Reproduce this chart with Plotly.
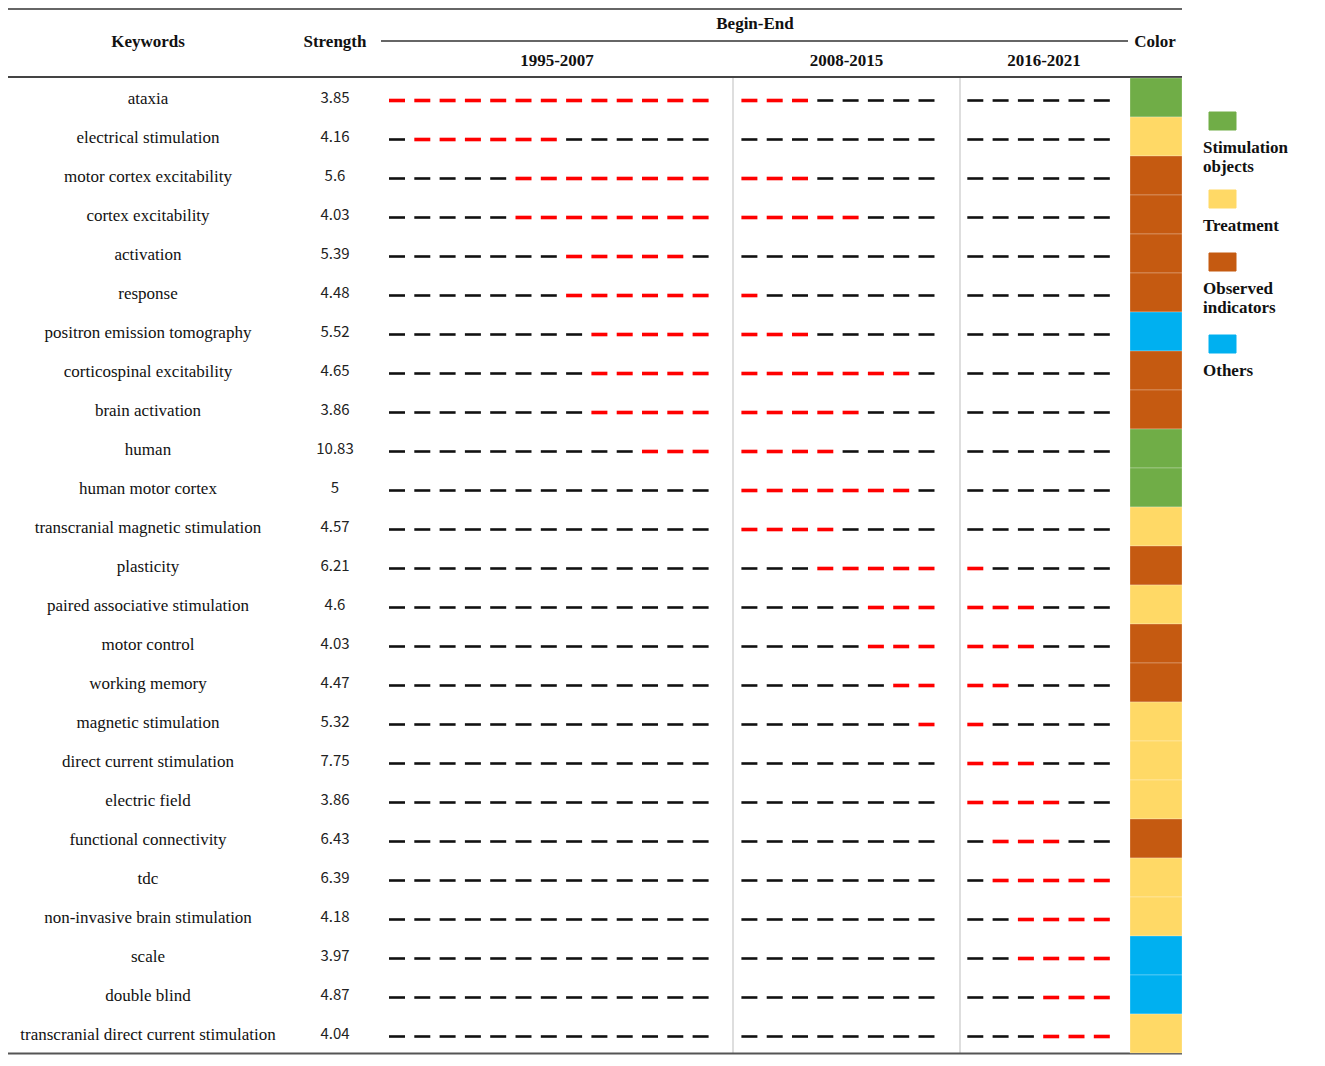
import plotly.graph_objects as go

keywords = ["ataxia", "electrical stimulation", "motor cortex excitability", "cortex excitability",
            "activation", "response", "positron emission tomography", "corticospinal excitability",
            "brain activation", "human", "human motor cortex", "transcranial magnetic stimulation",
            "plasticity", "paired associative stimulation", "motor control", "working memory",
            "magnetic stimulation", "direct current stimulation", "electric field",
            "functional connectivity", "tdc", "non-invasive brain stimulation", "scale",
            "double blind", "transcranial direct current stimulation"]
strength = ["3.85", "4.16", "5.6", "4.03", "5.39", "4.48", "5.52", "4.65", "3.86", "10.83", "5",
            "4.57", "6.21", "4.6", "4.03", "4.47", "5.32", "7.75", "3.86", "6.43", "6.39", "4.18",
            "3.97", "4.87", "4.04"]
begin = [1995, 1996, 2000, 2000, 2002, 2002, 2003, 2003, 2003, 2005, 2008, 2008, 2011, 2013,
         2013, 2014, 2015, 2016, 2016, 2017, 2017, 2018, 2018, 2019, 2019]
end = [2010, 2001, 2010, 2012, 2006, 2008, 2010, 2014, 2012, 2011, 2014, 2011, 2016, 2018,
       2018, 2017, 2016, 2018, 2019, 2019, 2021, 2021, 2021, 2021, 2021]
category = ["S", "T", "O", "O", "O", "O", "X", "O", "O", "S", "S", "T", "O", "T", "O", "O",
            "T", "T", "T", "O", "T", "T", "X", "X", "T"]

periods = ["1995-2007", "2008-2015", "2016-2021"]
period_start = [1995, 2008, 2016]
period_end = [2007, 2015, 2021]

cat_names = {"S": "Stimulation<br>objects", "T": "Treatment", "O": "Observed<br>indicators", "X": "Others"}
cat_colors = {"S": "#70AD47", "T": "#FFD966", "O": "#C55A11", "X": "#00B0F0"}
cat_order = ["S", "T", "O", "X"]

# layout in page pixels (page body has an 8px margin)
PAD = 8
ROW_TOP, ROW_H = 78, 39
X0, STEP, GAP, HALF = 397, 25.3, 23.5, 8
COL_EDGES = [381, 733, 960, 1128]
TXT_DY, DASH_DY = 2, 3
SERIF = "Liberation Serif"


def row_y(i):
    return ROW_TOP + (i + 0.5) * ROW_H


def period_of(year):
    return sum(1 for s in period_start[1:] if year >= s)


def year_x(year):
    return X0 + STEP * (year - 1995) + GAP * period_of(year)


fig = go.Figure()

bx, by, rx, ry = [], [], [], []
for i in range(len(keywords)):
    for yr in range(1995, 2022):
        xs = [year_x(yr) - HALF, year_x(yr) + HALF, None]
        ys = [row_y(i) + DASH_DY, row_y(i) + DASH_DY, None]
        if begin[i] <= yr <= end[i]:
            rx += xs
            ry += ys
        else:
            bx += xs
            by += ys

fig.add_trace(go.Scatter(x=bx, y=by, mode="lines", line=dict(color="#111111", width=2.6),
                         hoverinfo="skip"))
fig.add_trace(go.Scatter(x=rx, y=ry, mode="lines", line=dict(color="#FF0000", width=3.6),
                         hoverinfo="skip"))

text_y = [row_y(i) + TXT_DY for i in range(len(keywords))]
fig.add_trace(go.Scatter(x=[148] * len(keywords), y=text_y, mode="text", text=keywords,
                         textfont=dict(family=SERIF, size=17, color="#111111")))
fig.add_trace(go.Scatter(x=[335] * len(keywords), y=text_y, mode="text", text=strength,
                         textfont=dict(family="Noto Sans CJK SC", size=15, color="#222222")))

# header texts
hx = [148, 335, 755, 1155] + [(COL_EDGES[k] + COL_EDGES[k + 1]) / 2 for k in range(3)]
hy = [41, 41, 23, 41] + [60] * 3
ht = ["<b>Keywords</b>", "<b>Strength</b>", "<b>Begin-End</b>", "<b>Color</b>"] + \
     [f"<b>{p}</b>" for p in periods]
fig.add_trace(go.Scatter(x=hx, y=[v + TXT_DY for v in hy], mode="text", text=ht,
                         textfont=dict(family=SERIF, size=17, color="#111111")))

shapes = []
n = len(keywords)
bottom = ROW_TOP + n * ROW_H
shapes.append(dict(type="line", x0=6, x1=1182, y0=9, y1=9, line=dict(color="#333333", width=1.5)))
shapes.append(dict(type="line", x0=COL_EDGES[0], x1=COL_EDGES[-1], y0=41, y1=41,
                   line=dict(color="#333333", width=1.5)))
shapes.append(dict(type="line", x0=6, x1=1182, y0=ROW_TOP - 1, y1=ROW_TOP - 1,
                   line=dict(color="#444444", width=2)))
shapes.append(dict(type="line", x0=6, x1=1182, y0=bottom + 0.5, y1=bottom + 0.5,
                   line=dict(color="#555555", width=2)))
for sx in COL_EDGES[1:3]:
    shapes.append(dict(type="line", x0=sx, x1=sx, y0=ROW_TOP, y1=bottom,
                       line=dict(color="#C8C8C8", width=1.2), layer="below"))

for i, c in enumerate(category):
    shapes.append(dict(type="rect", x0=1130, x1=1182, y0=ROW_TOP + i * ROW_H, y1=ROW_TOP + (i + 1) * ROW_H,
                       fillcolor=cat_colors[c], line=dict(color="rgba(255,255,255,0.25)", width=1)))

# legend
leg_top = [112, 190, 253, 335]
for k, c in enumerate(cat_order):
    shapes.append(dict(type="rect", x0=1209, x1=1236, y0=leg_top[k], y1=leg_top[k] + 18,
                       fillcolor=cat_colors[c], line=dict(color=cat_colors[c], width=1)))
    lines = cat_names[c].split("<br>")
    fig.add_trace(go.Scatter(x=[1203] * len(lines),
                             y=[leg_top[k] + 35 + TXT_DY + 19 * j for j in range(len(lines))],
                             mode="text", text=[f"<b>{t}</b>" for t in lines], textposition="middle right",
                             textfont=dict(family=SERIF, size=17, color="#111111")))

fig.update_layout(
    width=1325 - 2 * PAD, height=1066 - 2 * PAD,
    margin=dict(l=0, r=0, t=0, b=0),
    plot_bgcolor="white", paper_bgcolor="white",
    showlegend=False,
    shapes=shapes,
    xaxis=dict(range=[PAD, 1325 - PAD], visible=False, fixedrange=True),
    yaxis=dict(range=[1066 - PAD, PAD], visible=False, fixedrange=True),
)

fig.write_html("out.html")
